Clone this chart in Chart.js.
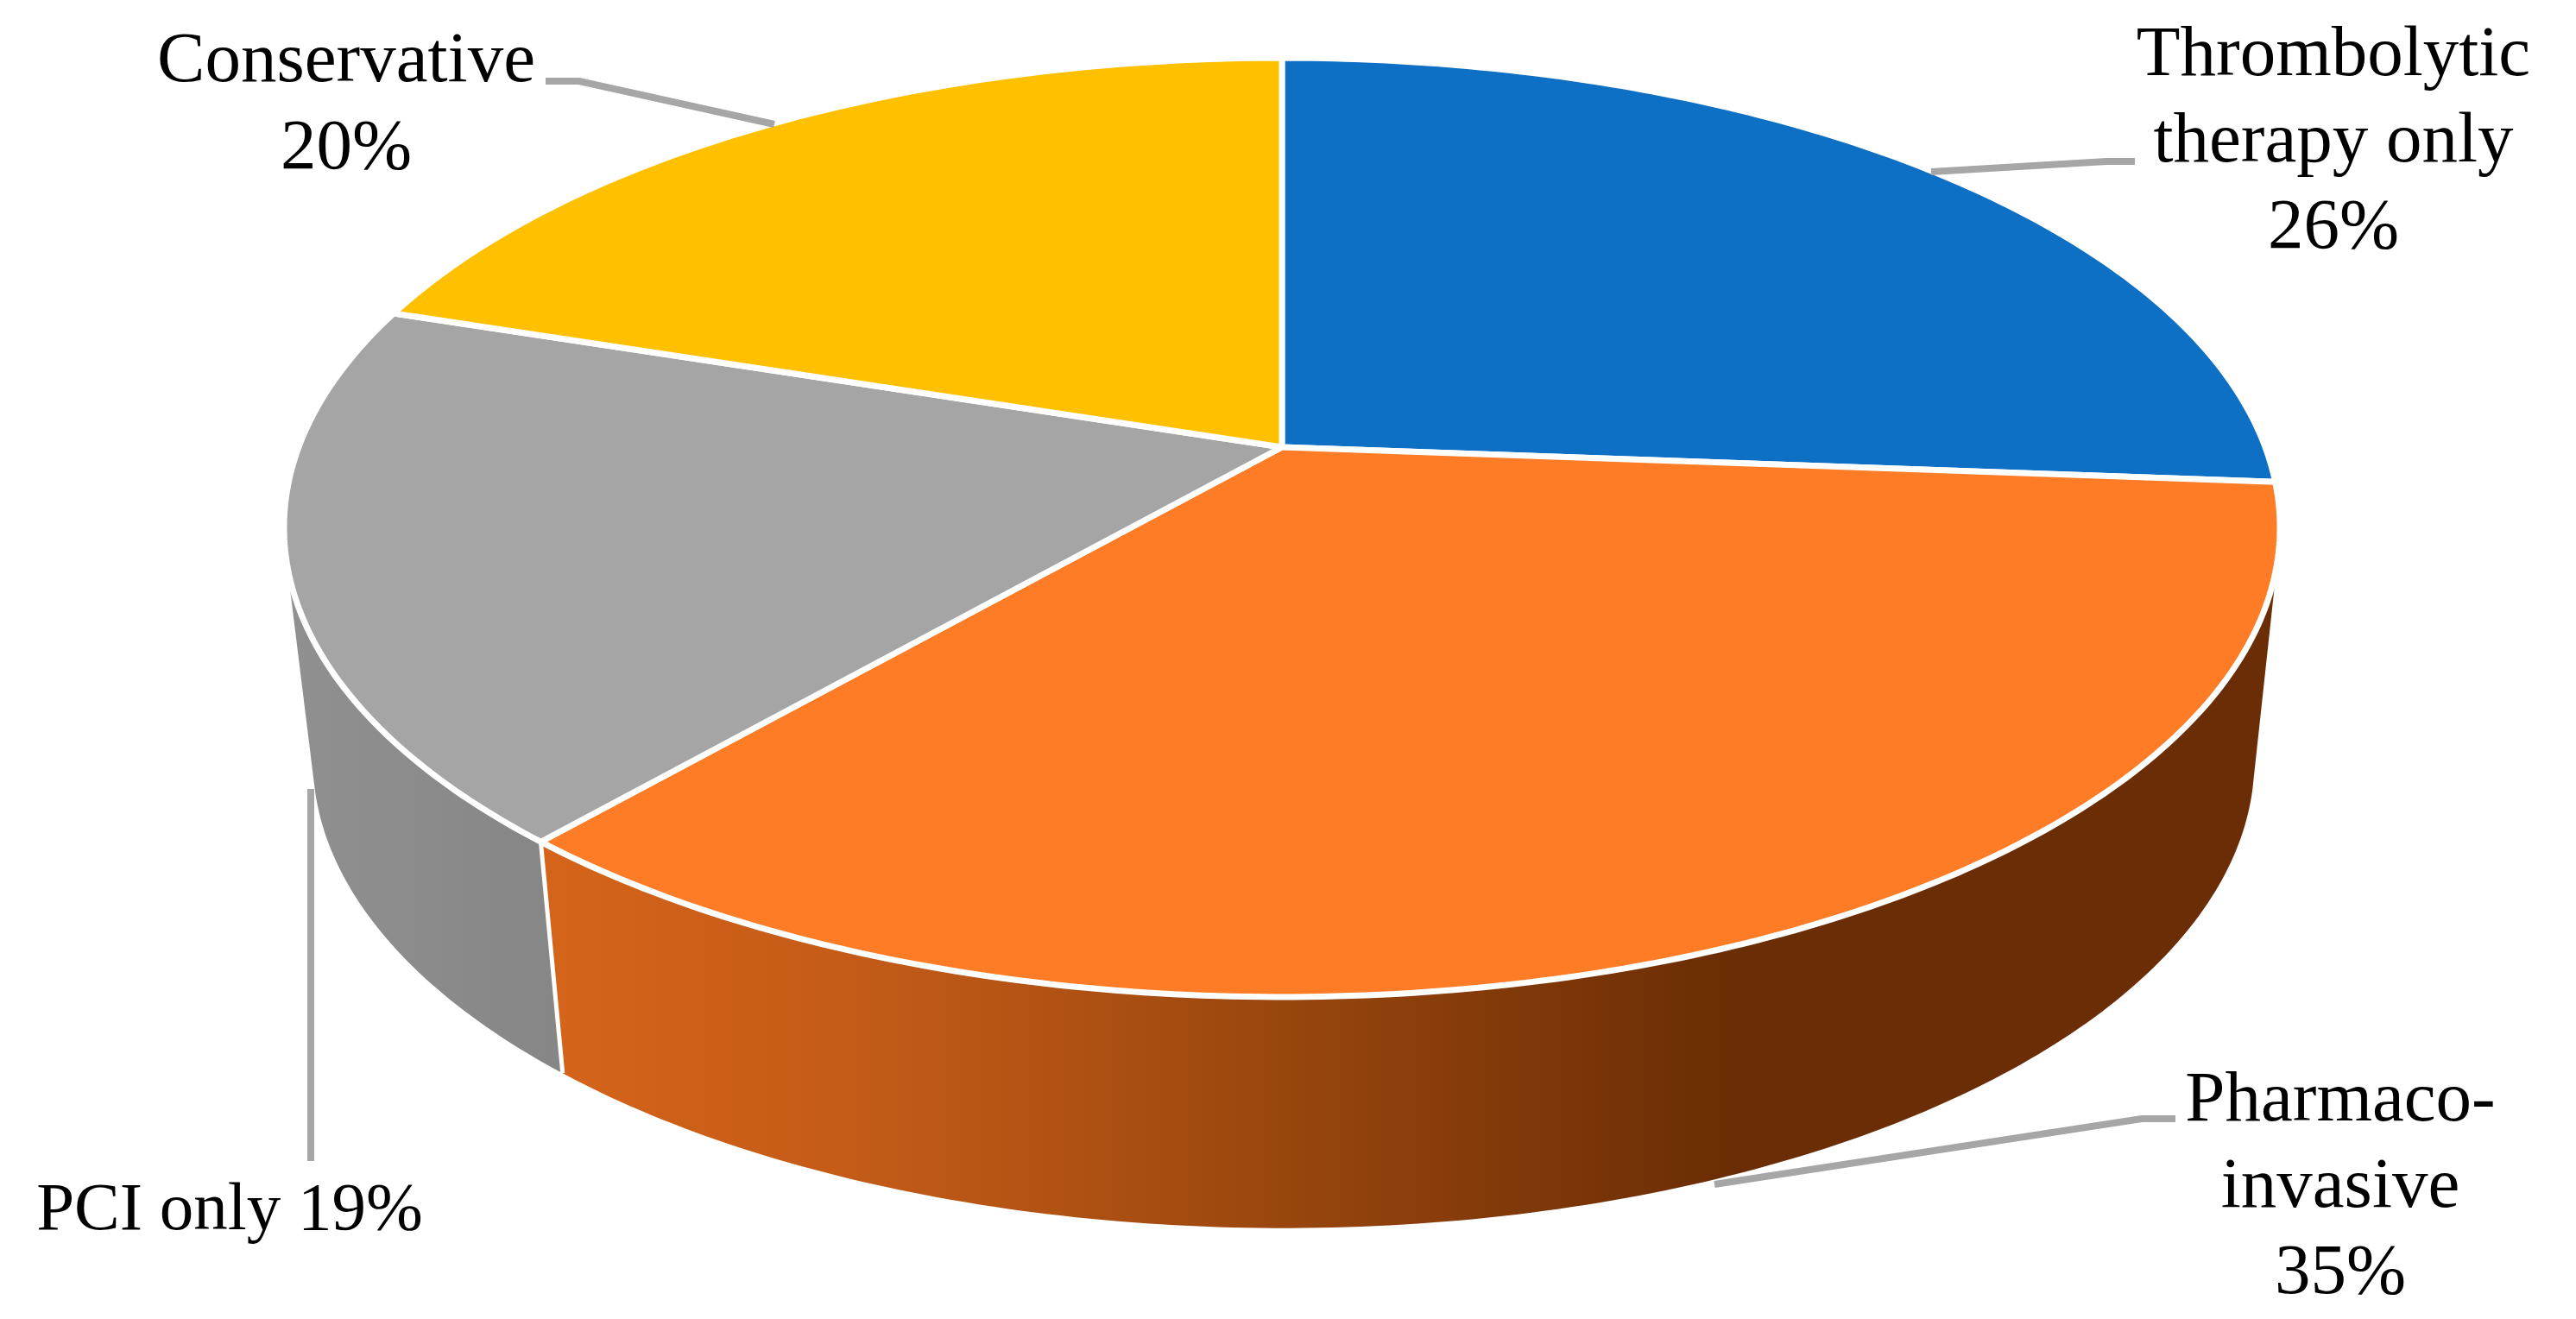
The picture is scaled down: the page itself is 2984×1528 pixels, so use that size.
<!DOCTYPE html>
<html>
<head>
<meta charset="utf-8">
<title>Treatment strategy</title>
<script src="https://cdn.jsdelivr.net/npm/chart.js"></script>
<style>
  html, body { margin: 0; padding: 0; background: #fff; }
  canvas { display: block; }
</style>
</head>
<body>
<canvas id="myChart" width="2984" height="1528"></canvas>
<script>
const categories = ['Thrombolytic therapy only', 'Pharmaco-invasive', 'PCI only', 'Conservative'];
const shares = [26.2, 35.2, 18.6, 20.0];
const sliceColors = ['#0e70c5', '#fe7c26', '#a5a5a5', '#ffc000'];
const labelRows = [
  ['Thrombolytic', 'therapy only', '26%'],
  ['Pharmaco-', 'invasive', '35%'],
  ['PCI only 19%'],
  ['Conservative', '20%']
];

// where each label block sits and where its leader line runs
const labelBoxes = [
  { x: 2703, y: 87, gap: 100, size: 83, line: [[2237, 199], [2440, 187], [2473, 187]] },
  { x: 2711, y: 1298, gap: 100, size: 83, line: [[1986, 1372], [2481, 1296], [2520, 1296]] },
  { x: 266, y: 1424, gap: 100, size: 79, line: [[360, 914], [360, 1345]] },
  { x: 401, y: 94, gap: 101, size: 83, line: [[632, 94], [671, 94], [897, 144]] }
];

// perspective of the tilted disc: top face and lower rim of the wall
const topRim = { cx: 1485, cy: 518, A: 1139, B: 528, k: 0.171 };
const lowRim = { cx: 1487, cy: 787, A: 1108, B: 527, k: 0.171 };

// only the front of the wall shows; angles from 12 o'clock, clockwise
const wallTop = [104, 256].map(d => d * Math.PI / 180);
const wallLow = [103.5, 256.5].map(d => d * Math.PI / 180);

function project(rim, theta, r) {
  const u = r * Math.sin(theta);
  const v = -r * Math.cos(theta);
  const w = 1 - rim.k * v;
  return [rim.cx + rim.A * u / w, rim.cy + rim.B * v / w];
}

function rimPoints(rim, from, to) {
  const pts = [];
  const steps = Math.max(2, Math.ceil(Math.abs(to - from) * 80));
  for (let i = 0; i <= steps; i++) {
    pts.push(project(rim, from + (to - from) * i / steps, 1));
  }
  return pts;
}

function tracePath(ctx, pts) {
  ctx.beginPath();
  pts.forEach((p, i) => i ? ctx.lineTo(p[0], p[1]) : ctx.moveTo(p[0], p[1]));
  ctx.closePath();
}

function wallFill(ctx, index) {
  if (index === 1) {
    const g = ctx.createLinearGradient(640, 0, 2000, 0);
    g.addColorStop(0, '#d4641a');
    g.addColorStop(0.28, '#c25a17');
    g.addColorStop(0.5, '#a84e11');
    g.addColorStop(0.74, '#8a3e0b');
    g.addColorStop(1, '#6b2d05');
    return g;
  }
  const g = ctx.createLinearGradient(335, 0, 650, 0);
  g.addColorStop(0, '#909090');
  g.addColorStop(1, '#868686');
  return g;
}

const pie3d = {
  id: 'pie3d',
  beforeDatasetDraw(chart, args) {
    const ctx = chart.ctx;
    const arcs = chart.getDatasetMeta(args.index).data;
    ctx.save();
    ctx.lineJoin = 'round';

    // wall under the front slices
    arcs.forEach((arc, i) => {
      const a = arc.startAngle + Math.PI / 2;
      const b = arc.endAngle + Math.PI / 2;
      if (b <= wallLow[0] || a >= wallLow[1]) return;
      const top = rimPoints(topRim, Math.max(a, wallTop[0]), Math.min(b, wallTop[1]));
      const low = rimPoints(lowRim, Math.max(a, wallLow[0]), Math.min(b, wallLow[1]));
      tracePath(ctx, top.concat(low.reverse()));
      ctx.fillStyle = wallFill(ctx, i);
      ctx.fill();
    });

    // white seam where two wall pieces meet
    arcs.forEach(arc => {
      const a = arc.startAngle + Math.PI / 2;
      if (a <= wallTop[0] || a >= wallTop[1]) return;
      const p = project(topRim, a, 1);
      const q = project(lowRim, a, 1);
      ctx.beginPath();
      ctx.moveTo(p[0], p[1]);
      ctx.lineTo(q[0], q[1]);
      ctx.strokeStyle = '#fff';
      ctx.lineWidth = 5;
      ctx.stroke();
    });

    // top face
    arcs.forEach(arc => {
      const a = arc.startAngle + Math.PI / 2;
      const b = arc.endAngle + Math.PI / 2;
      tracePath(ctx, [project(topRim, 0, 0)].concat(rimPoints(topRim, a, b)));
      ctx.fillStyle = arc.options.backgroundColor;
      ctx.fill();
      ctx.strokeStyle = arc.options.borderColor;
      ctx.lineWidth = arc.options.borderWidth;
      ctx.stroke();
    });

    ctx.restore();
    return false;
  },
  afterDraw(chart) {
    const ctx = chart.ctx;
    ctx.save();
    labelBoxes.forEach((box, i) => {
      ctx.beginPath();
      box.line.forEach((p, n) => n ? ctx.lineTo(p[0], p[1]) : ctx.moveTo(p[0], p[1]));
      ctx.strokeStyle = '#a6a6a6';
      ctx.lineWidth = 8;
      ctx.stroke();

      ctx.fillStyle = '#000';
      ctx.font = box.size + 'px "Liberation Serif"';
      ctx.textAlign = 'center';
      ctx.textBaseline = 'alphabetic';
      labelRows[i].forEach((row, n) => ctx.fillText(row, box.x, box.y + n * box.gap));
    });
    ctx.restore();
  }
};

var myChart = new Chart(document.getElementById('myChart'), {
  type: 'pie',
  data: {
    labels: categories,
    datasets: [{
      data: shares,
      backgroundColor: sliceColors,
      borderColor: '#ffffff',
      borderWidth: 7
    }]
  },
  options: {
    responsive: false,
    animation: false,
    plugins: { legend: { display: false }, tooltip: { enabled: false } }
  },
  plugins: [pie3d]
});
</script>
</body>
</html>
